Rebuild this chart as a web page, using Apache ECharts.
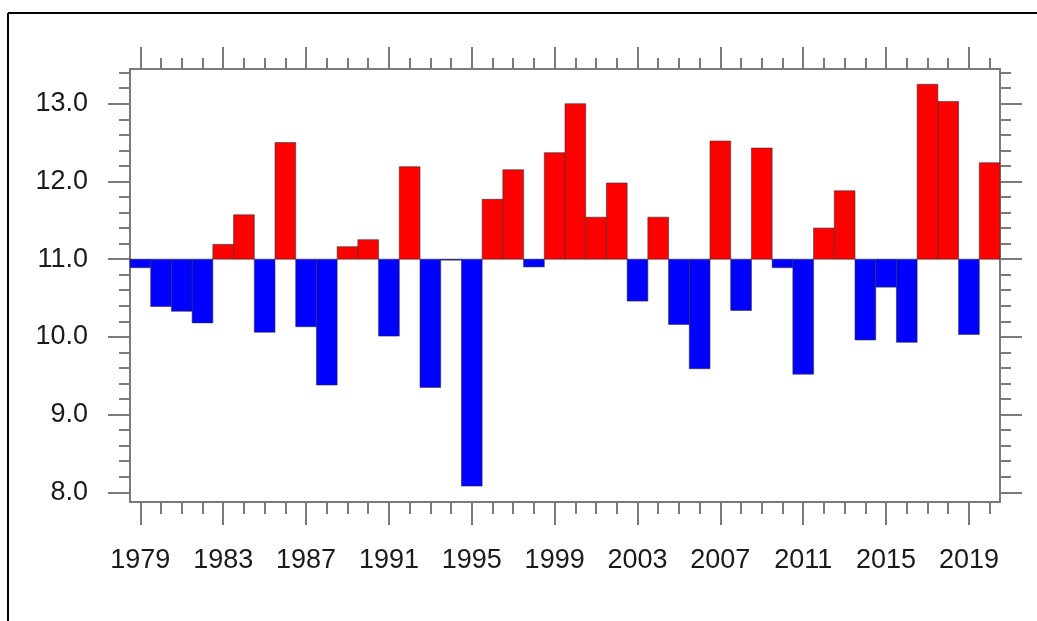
<!DOCTYPE html>
<html>
<head>
<meta charset="utf-8">
<script src="https://cdn.jsdelivr.net/npm/echarts@6/dist/echarts.min.js"></script>
<style>
  html, body { margin: 0; padding: 0; background: #fff; }
  #chart { width: 1037px; height: 621px; }
</style>
</head>
<body>
<div id="chart"></div>
<script>
// ---- data ----
const years = [1979,1980,1981,1982,1983,1984,1985,1986,1987,1988,1989,1990,1991,1992,1993,1994,1995,1996,1997,1998,1999,2000,2001,2002,2003,2004,2005,2006,2007,2008,2009,2010,2011,2012,2013,2014,2015,2016,2017,2018,2019,2020];
const values = [10.89,10.39,10.33,10.18,11.19,11.57,10.06,12.50,10.13,9.38,11.16,11.25,10.01,12.19,9.35,10.99,8.08,11.77,12.15,10.90,12.37,13.00,11.54,11.98,10.46,11.54,10.16,9.59,12.52,10.34,12.43,10.89,9.52,11.40,11.88,9.96,10.64,9.93,13.25,13.03,10.03,12.24];
const baseline = 11.0;
const yMajorTicks = [8, 9, 10, 11, 12, 13];
const yMinorTicks = [8.0,8.2,8.4,8.6,8.8,9.0,9.2,9.4,9.6,9.8,10.0,10.2,10.4,10.6,10.8,11.0,11.2,11.4,11.6,11.8,12.0,12.2,12.4,12.6,12.8,13.0,13.2,13.4];
const yMin = 7.875, yMax = 13.447;

const axisColor = '#7a7a7a';
const labelFont = { fontFamily: 'Liberation Sans, Arial, sans-serif', fontSize: 27, color: '#1a1a1a' };
const cats = years.map(String);

function xAx(position, interval, len, showLabel, showLine) {
  return {
    type: 'category', data: cats, position: position, boundaryGap: true,
    axisLine: { show: showLine, lineStyle: { color: axisColor, width: 2 } },
    axisTick: { show: true, interval: interval, alignWithLabel: true, length: len, inside: false,
                lineStyle: { color: axisColor, width: 2 } },
    axisLabel: Object.assign({ show: showLabel, interval: interval, margin: 45 }, labelFont),
    splitLine: { show: false }
  };
}
function yAx(position, ticks, len, showLabel, showLine) {
  return {
    type: 'value', position: position, min: yMin, max: yMax,
    axisLine: { show: showLine, lineStyle: { color: axisColor, width: 2 } },
    axisTick: { show: true, customValues: ticks, length: len, inside: false,
                lineStyle: { color: axisColor, width: 2 } },
    axisLabel: Object.assign({ show: showLabel, customValues: yMajorTicks, margin: 42,
                formatter: v => Number(v).toFixed(1) }, labelFont),
    splitLine: { show: false }
  };
}

const chart = echarts.init(document.getElementById('chart'), null, { renderer: 'canvas' });
chart.setOption({
  animation: false,
  backgroundColor: '#fff',
  grid: { left: 130, right: 37, top: 69, bottom: 119, containLabel: false },
  xAxis: [
    xAx('bottom', 0, 12, false, true),
    xAx('bottom', 3, 23, true, false),
    xAx('top', 0, 11, false, true),
    xAx('top', 3, 22, false, false)
  ],
  yAxis: [
    yAx('left', yMinorTicks, 11, false, true),
    yAx('left', yMajorTicks, 22, true, false),
    yAx('right', yMinorTicks, 11, false, true),
    yAx('right', yMajorTicks, 22, false, false)
  ],
  series: [{
    type: 'custom',
    xAxisIndex: 0, yAxisIndex: 0,
    data: values.map((v, i) => [i, v]),
    renderItem: function (params, api) {
      const i = api.value(0), v = api.value(1);
      const p0 = api.coord([i, baseline]);
      const p1 = api.coord([i, v]);
      const w = api.size([1, 0])[0];
      return {
        type: 'rect',
        shape: { x: p0[0] - w / 2, y: Math.min(p0[1], p1[1]), width: w, height: Math.max(Math.abs(p1[1] - p0[1]), 1) },
        style: { fill: v >= baseline ? '#ff0000' : '#0000ff', stroke: '#333', lineWidth: 0.6 }
      };
    }
  }],
  graphic: [
    { type: 'line', shape: { x1: 8, y1: 13, x2: 1037, y2: 13 }, style: { stroke: '#000', lineWidth: 2 } },
    { type: 'line', shape: { x1: 8, y1: 13, x2: 8, y2: 621 }, style: { stroke: '#000', lineWidth: 2 } }
  ]
});
</script>
</body>
</html>
